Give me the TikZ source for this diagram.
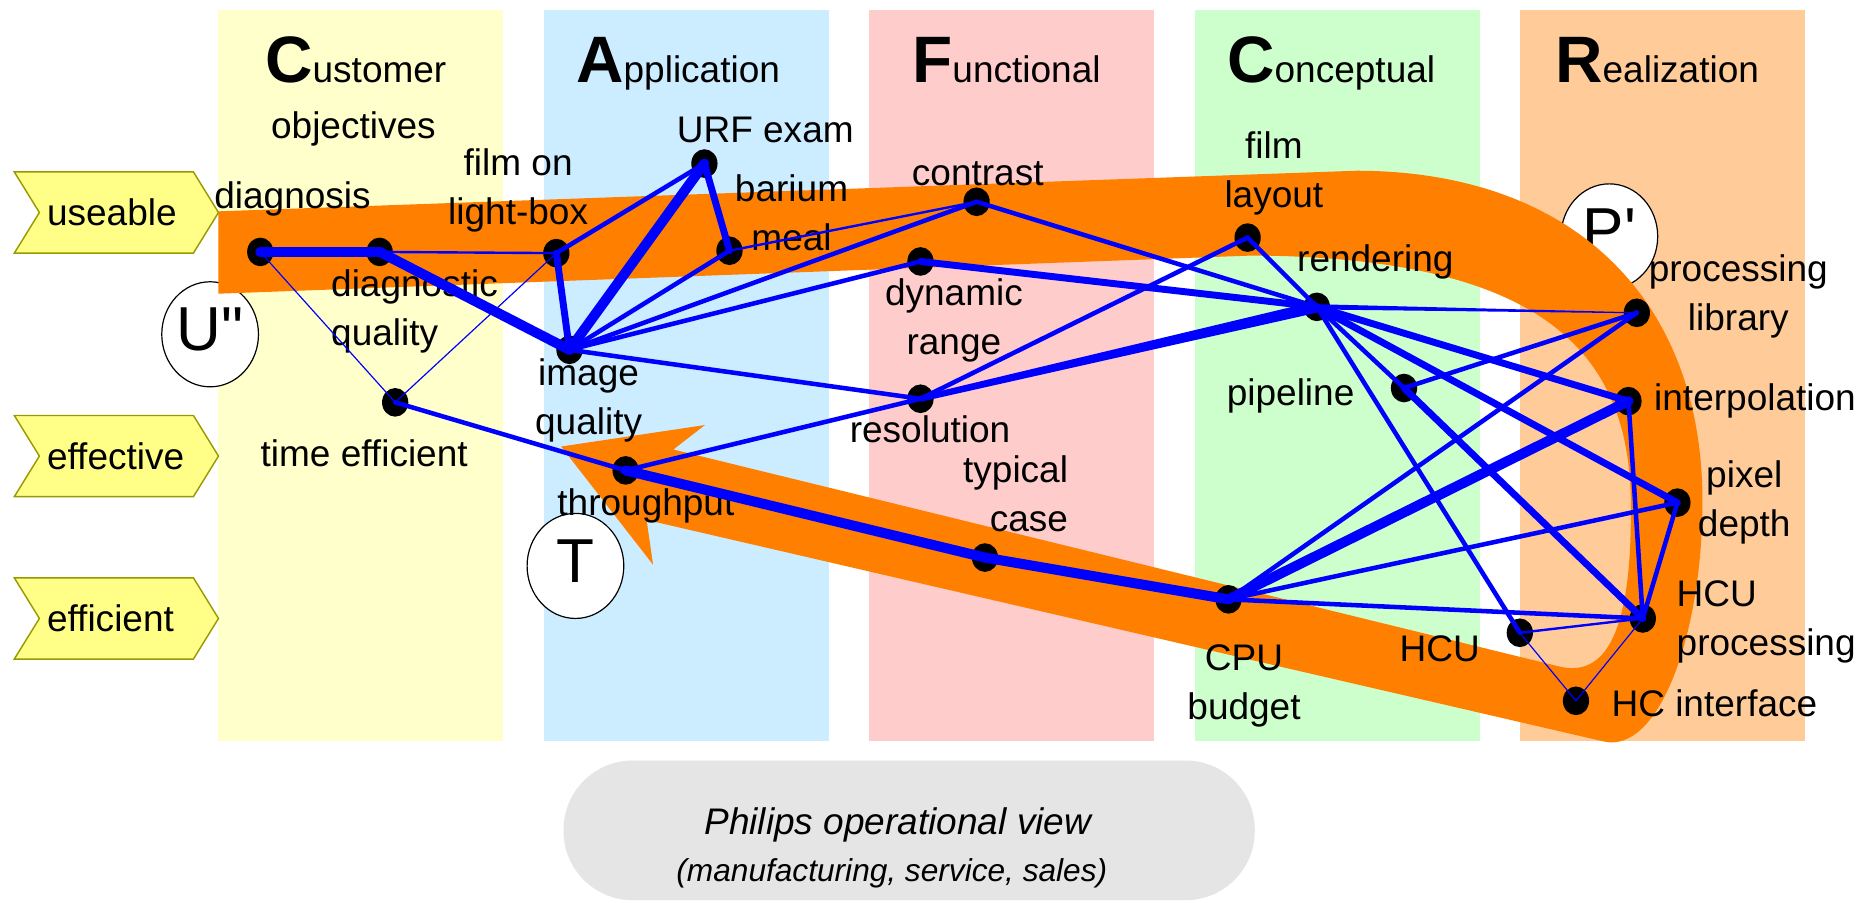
\documentclass[tikz,border=0pt]{standalone}
\usepackage{fontspec}
\setmainfont{Liberation Sans}
\usetikzlibrary{shapes.geometric,calc}
\definecolor{custbg}{HTML}{FFFFCC}
\definecolor{applbg}{HTML}{CCECFF}
\definecolor{funcbg}{HTML}{FFCCCC}
\definecolor{concbg}{HTML}{CCFFCC}
\definecolor{realbg}{HTML}{FFCC99}
\definecolor{pathor}{HTML}{FF8000}
\definecolor{tagfill}{HTML}{FFFF88}
\definecolor{tagline}{HTML}{999900}
\definecolor{opgray}{HTML}{E5E5E5}
\newcommand{\headcap}[1]{{\fontsize{27.5}{27.5}\selectfont\bfseries #1}}
\begin{document}
\begin{tikzpicture}[x=0.5pt,y=-0.5pt,
        lbl/.style={font=\fontsize{15.5}{20.5}\selectfont,align=center,inner sep=0pt,anchor=base},
        dot/.style={ellipse,fill=black,minimum width=11pt,minimum height=12pt,inner sep=0pt},
        circ/.style={ellipse,draw=black,line width=0.5pt,fill=white,minimum width=40.5pt,minimum height=44pt,inner sep=0pt,font=\fontsize{26}{26}\selectfont},
        tagbox/.style={fill=tagfill,draw=tagline,line width=0.6pt}]
    \path[use as bounding box,fill=white] (0,0) rectangle (1568,756);
    % view columns
    \fill[custbg] (183,8) rectangle (421,621);
    \fill[applbg] (456,8) rectangle (694,621);
    \fill[funcbg] (728,8) rectangle (967,621);
    \fill[concbg] (1001,8) rectangle (1240,621);
    \fill[realbg] (1273,8) rectangle (1512,621);
    % circles
    \node[circ] (U) at (176,280) {\raisebox{2pt}[\height][\depth]{U\textquotedbl}};
    \node[circ] (P) at (1348,198) {\raisebox{2.5pt}[\height][\depth]{P\textquotesingle}};
    \node[circ] (T) at (482,474) {\raisebox{2pt}[\height][\depth]{T}};
    % orange route
    \fill[pathor] (183,177) -- (1136,143)
        .. controls (1316,143) and (1426,249) .. (1426,420)
        .. controls (1426,530) and (1390,632) .. (1343,621)
        -- (541.6,435.5) -- (547,473) -- (470,374) -- (590.5,356) -- (564,376.5)
        -- (1305,558)
        .. controls (1340,567) and (1366,540) .. (1366,430)
        .. controls (1368,300) and (1300,216) .. (1050,214)
        -- (183,246) -- cycle;
    % qualities
    \filldraw[tagbox] (12,144) -- (162,144) -- (183,178) -- (162,212) -- (12,212) -- (33,178) -- cycle;
    \filldraw[tagbox] (12,348) -- (162,348) -- (183,382) -- (162,416) -- (12,416) -- (33,382) -- cycle;
    \filldraw[tagbox] (12,484) -- (162,484) -- (183,518) -- (162,552) -- (12,552) -- (33,518) -- cycle;
    \begin{scope}[every node/.style={lbl,anchor=base west}]
        \node (Q1) at (39,189) {useable};
        \node (Q2) at (39,393) {effective};
        \node (Q3) at (39,529) {efficient};
    \end{scope}
    % headings
    \node[lbl] (H1) at (298,69) {\headcap{C}ustomer};
    \node[lbl] (H1b) at (296,116) {objectives};
    \node[lbl] (H2) at (568,69) {\headcap{A}pplication};
    \node[lbl] (H3) at (843,69) {\headcap{F}unctional};
    \node[lbl] (H4) at (1115,69) {\headcap{C}onceptual};
    \node[lbl] (H5) at (1388,69) {\headcap{R}ealization};
    % labels (base = last line)
    \node[lbl] (L11) at (245,175) {diagnosis};
    \node[lbl,align=left,anchor=base west] (L12) at (277,289) {diagnostic\\quality};
    \node[lbl] (L13) at (305,391) {time efficient};
    \node[lbl] (L21) at (434,188) {film on\\light-box};
    \node[lbl] (L22) at (641,119) {URF exam};
    \node[lbl] (L23) at (663,210) {barium\\meal};
    \node[lbl] (L24) at (493,364) {image\\quality};
    \node[lbl] (L25) at (541,432) {throughput};
    \node[lbl] (L31) at (819,155) {contrast};
    \node[lbl] (L32) at (799,297) {dynamic\\range};
    \node[lbl] (L33) at (779,371) {resolution};
    \node[lbl,align=right,anchor=base east] (L34) at (895,445) {typical\\case};
    \node[lbl] (L41) at (1067,174) {film\\layout};
    \node[lbl] (L42) at (1152,227) {rendering};
    \node[lbl] (L43) at (1081,340) {pipeline};
    \node[lbl] (L44) at (1042,603) {CPU\\budget};
    \node[lbl] (L45) at (1206,554) {HCU};
    \node[lbl] (L51) at (1456,277) {processing\\library};
    \node[lbl] (L52) at (1470,344) {interpolation};
    \node[lbl] (L53) at (1461,449) {pixel\\depth};
    \node[lbl,align=left,anchor=base west] (L54) at (1404,549) {HCU\\processing};
    \node[lbl] (L55) at (1436,600) {HC interface};
    % dots
    \begin{scope}[every node/.style={dot}]
        \node (N11) at (218,211) {};
        \node (N12) at (318,211) {};
        \node (N13) at (331,337) {};
        \node (N21) at (466,212) {};
        \node (N22) at (590,137) {};
        \node (N23) at (611,210) {};
        \node (N24) at (477,293) {};
        \node (N25) at (524,394) {};
        \node (N31) at (818,169) {};
        \node (N32) at (771,219) {};
        \node (N33) at (771,334) {};
        \node (N34) at (825,467) {};
        \node (N41) at (1045,199) {};
        \node (N42) at (1103,257) {};
        \node (N43) at (1176,325) {};
        \node (N44) at (1029,502) {};
        \node (N45) at (1273,530) {};
        \node (N51) at (1371,262) {};
        \node (N52) at (1364,336) {};
        \node (N53) at (1405,421) {};
        \node (N54) at (1376,518) {};
        \node (N55) at (1320,587) {};
    \end{scope}
    % relations
    \begin{scope}[blue,line cap=round,line width=0.5pt]
        \draw (N11.center) -- (N13.center);
        \draw (N21.center) -- (N13.center);
        \draw (N45.center) -- (N55.center);
        \draw (N55.center) -- (N54.center);
    \end{scope}
    \begin{scope}[blue,line cap=round,line width=1pt]
        \draw (N12.center) -- (N21.center);
        \draw (N23.center) -- (N31.center);
        \draw (N45.center) -- (N54.center);
    \end{scope}
    \begin{scope}[blue,line cap=round,line width=1.9pt]
        \draw (N21.center) -- (N22.center);
        \draw (N13.center) -- (N25.center);
        \draw (N24.center) -- (N23.center);
        \draw (N24.center) -- (N31.center);
        \draw (N24.center) -- (N32.center);
        \draw (N24.center) -- (N33.center);
        \draw (N25.center) -- (N33.center);
        \draw (N31.center) -- (N42.center);
        \draw (N41.center) -- (N42.center);
        \draw (N41.center) -- (N33.center);
        \draw (N42.center) -- (N43.center);
        \draw (N42.center) -- (N45.center);
        \draw (N43.center) -- (N51.center);
        \draw (N44.center) -- (N51.center);
        \draw (N44.center) -- (N53.center);
        \draw (N44.center) -- (N54.center);
        \draw (N52.center) -- (N54.center);
        \draw (N53.center) -- (N54.center);
    \end{scope}
    \begin{scope}[blue,line cap=round,line width=2.9pt]
        \draw (N21.center) -- (N24.center);
        \draw (N22.center) -- (N23.center);
        \draw (N32.center) -- (N42.center);
        \draw (N42.center) -- (N52.center);
        \draw (N42.center) -- (N53.center);
        \draw (N43.center) -- (N54.center);
    \end{scope}
    \begin{scope}[blue,line cap=round,line width=4.2pt]
        \draw (N11.center) -- (N12.center);
        \draw (N12.center) -- (N24.center);
        \draw (N22.center) -- (N24.center);
        \draw (N25.center) -- (N34.center);
        \draw (N34.center) -- (N44.center);
        \draw (N44.center) -- (N52.center);
    \end{scope}
    % tapered relations
    \fill[blue] ($(N33.center)!1.25pt!90:(N42.center)$) -- ($(N42.center)!2.4pt!-90:(N33.center)$)
        -- ($(N42.center)!2.4pt!90:(N33.center)$) -- ($(N33.center)!1.25pt!-90:(N42.center)$) -- cycle;
    \fill[blue] ($(N42.center)!1.1pt!90:(N51.center)$) -- ($(N51.center)!0.2pt!-90:(N42.center)$)
        -- ($(N51.center)!0.2pt!90:(N42.center)$) -- ($(N42.center)!1.1pt!-90:(N51.center)$) -- cycle;
    % operational view
    \fill[opgray,rounded corners=29pt] (472,637) rectangle (1051,754);
    \node[lbl,font=\fontsize{15.5}{20.5}\selectfont\itshape] (OV1) at (752,699) {Philips operational view};
    \node[lbl,font=\fontsize{13.25}{16}\selectfont\itshape] (OV2) at (747,738) {(manufacturing, service, sales)};
\end{tikzpicture}
\end{document}
